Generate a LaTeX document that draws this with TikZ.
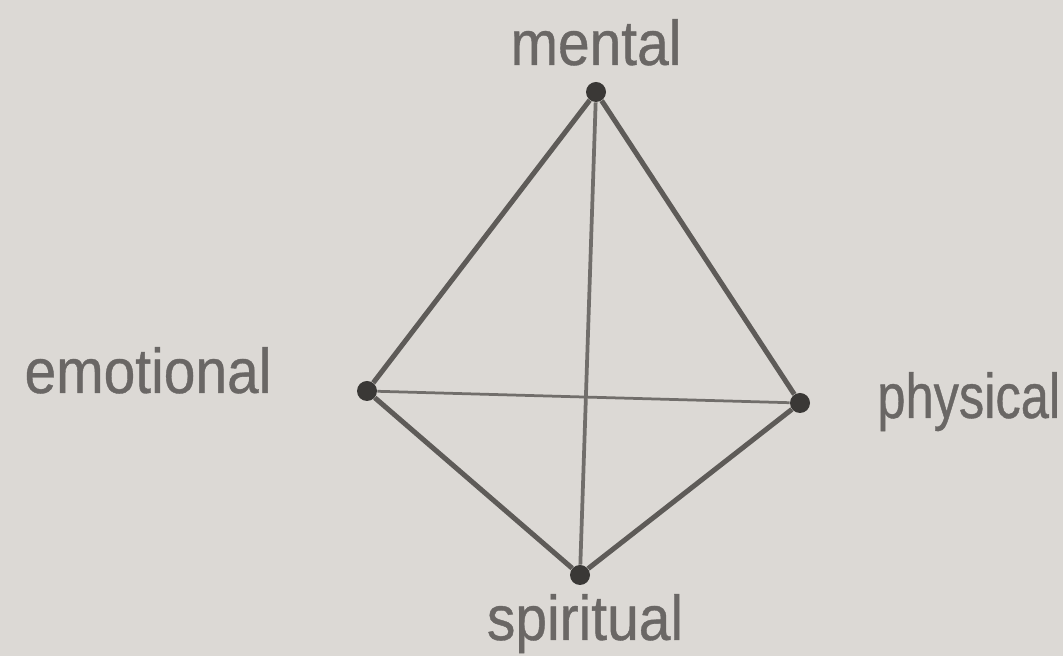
\documentclass[tikz,border=0pt]{standalone}
\usepackage{fontspec}
\newfontfamily\labfont[FakeStretch=0.9,FakeBold=0.6]{Liberation Sans}
\newfontfamily\labfontnarrow[FakeStretch=0.8,FakeBold=0.6]{Liberation Sans}
\usetikzlibrary{positioning}
\definecolor{paper}{HTML}{DCD9D5}
\definecolor{ink}{HTML}{6A6765}
\definecolor{edgecol}{HTML}{5E5B58}
\definecolor{dotcol}{HTML}{3A3836}

\begin{document}
\begin{tikzpicture}[
  x=0.2mm,y=0.2mm,
  vertex/.style={circle,fill=dotcol,inner sep=0pt,minimum size=4mm},
  lab/.style={text=ink,inner sep=0pt,font=\labfont\fontsize{36}{40}\selectfont},
  edge/.style={draw=edgecol,line width=1mm},
  inner/.style={draw=edgecol!85!paper,line width=0.75mm}
]
\fill[paper] (0,0) rectangle (1063,656);
\useasboundingbox (0,0) rectangle (1063,656);
% vertices of the tetrahedron
\node[vertex] (m) at (596,564) {};
\node[vertex] (e) at (367,265) {};
\node[vertex] (p) at (800,253) {};
\node[vertex] (s) at (580,81) {};
% labels
\node[lab,anchor=base] (ml) at (596,591) {mental};
\node[lab,anchor=base] (el) at (148,263) {emotional};
\node[lab,anchor=base west,font=\labfontnarrow\fontsize{36}{40}\selectfont] (pl) at (877,238) {physical};
\node[lab,anchor=base] (sl) at (585,16) {spiritual};
% edges
\draw[edge] (e) -- (m);
\draw[edge] (m) -- (p);
\draw[edge] (p) -- (s);
\draw[edge] (s) -- (e);
\draw[inner] (m) -- (s);
\draw[inner,line width=0.55mm] (e) -- (p);
\end{tikzpicture}
\end{document}
